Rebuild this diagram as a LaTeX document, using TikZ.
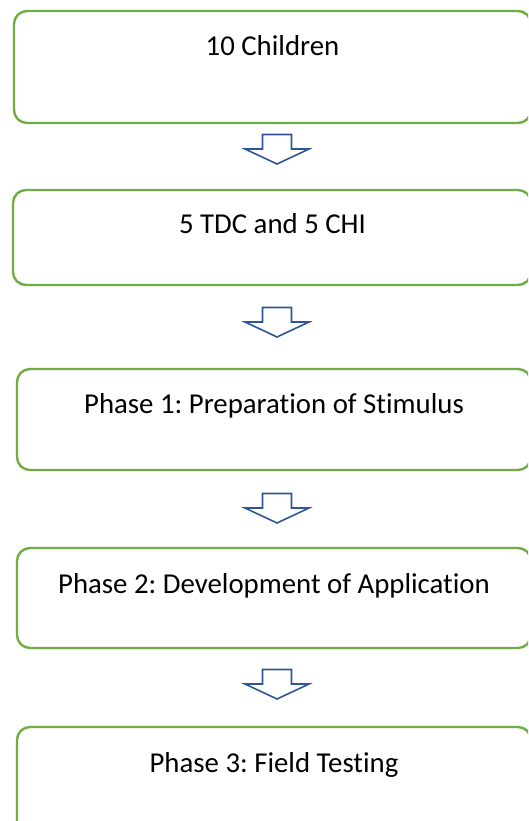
\documentclass[tikz,border=0pt]{standalone}
\usepackage{fontspec}
\setmainfont{Carlito}[Ligatures={NoCommon}]
\frenchspacing
\definecolor{boxgreen}{RGB}{112,173,71}
\definecolor{arrowblue}{RGB}{47,85,151}
\begin{document}
\begin{tikzpicture}[x=1pt,y=-1pt,
  flowbox/.style={draw=boxgreen,line width=2.4pt,rounded corners=13pt},
  boxtext/.style={font=\fontsize{28.8}{34}\selectfont,inner sep=0pt,anchor=base},
  downarrow/.pic={\draw[arrowblue,line width=1.6pt,line join=miter]
     (-14.5,-14.5) -- (14.5,-14.5) -- (14.5,0) -- (32,0) -- (0,15) -- (-32,0) -- (-14.5,0) -- cycle;}]
\useasboundingbox (0,0) rectangle (528,821);
\clip (0,0) rectangle (528,821);
\fill[white] (0,0) rectangle (528,821);
\draw[flowbox] (14,11) rectangle (531,123);
\node[boxtext] (t1) at (272.5,56) {10 Children};
\draw[flowbox] (13,190) rectangle (531,285);
\node[boxtext] (t2) at (272.5,233) {5 TDC and 5 CHI};
\draw[flowbox] (17,369) rectangle (531,470);
\node[boxtext] (t3) at (274,413) {Phase 1: Preparation of Stimulus};
\draw[flowbox] (17,548) rectangle (531,648);
\node[boxtext] (t4) at (274,593) {Phase 2: Development of Application};
\draw[flowbox] (17,727) rectangle (531,850);
\node[boxtext] (t5) at (274,772) {Phase 3: Field Testing};
\pic at (277,149) {downarrow};
\pic at (277,322) {downarrow};
\pic at (277,508) {downarrow};
\pic at (277,684) {downarrow};
\end{tikzpicture}
\end{document}
